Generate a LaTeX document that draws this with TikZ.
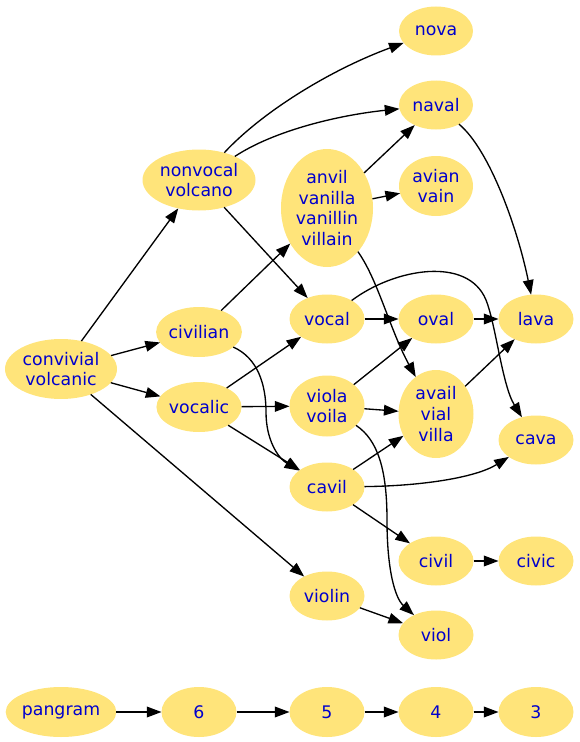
\documentclass[tikz,border=0pt]{standalone}
\usepackage{fontspec}
\setmainfont{DejaVu Sans}
\usetikzlibrary{shapes.geometric,arrows.meta}
\definecolor{nodefill}{HTML}{FFE47A}
\definecolor{nodetext}{HTML}{0000CD}
\begin{document}
\begin{tikzpicture}[x=0.75pt,y=-0.75pt,
  wnode/.style={ellipse,fill=nodefill,draw=none,inner sep=0pt,outer sep=0pt,
    text=nodetext,align=center,font=\fontsize{13}{15.5}\selectfont},
  sz/.style 2 args={minimum width=#1*0.75pt,minimum height=#2*0.75pt},
  edge/.style={draw=black,line width=1pt,-{Triangle[length=11pt,width=8pt]}}]
\useasboundingbox (0,0) rectangle (579,742);
% nodes
\node[wnode,sz={74}{49}] (nova) at (436,31) {nova};
\node[wnode,sz={74}{49}] (naval) at (436,105) {naval};
\node[wnode,sz={113}{61}] (nonvocal) at (199,180) {nonvocal\\volcano};
\node[wnode,sz={92}{118}] (anvil) at (327,208) {anvil\\vanilla\\vanillin\\villain};
\node[wnode,sz={74}{60}] (avian) at (436,186) {avian\\vain};
\node[wnode,sz={74}{50}] (civilian) at (199,332) {civilian};
\node[wnode,sz={112}{60}] (convivial) at (61,369) {convivial\\volcanic};
\node[wnode,sz={75}{49}] (vocal) at (327,319) {vocal};
\node[wnode,sz={75}{49}] (oval) at (436,319) {oval};
\node[wnode,sz={75}{49}] (lava) at (536,319) {lava};
\node[wnode,sz={74}{50}] (vocalic) at (199,407) {vocalic};
\node[wnode,sz={75}{61}] (viola) at (327,406) {viola\\voila};
\node[wnode,sz={75}{88}] (avail) at (436,414) {avail\\vial\\villa};
\node[wnode,sz={75}{49}] (cava) at (536,440) {cava};
\node[wnode,sz={75}{49}] (cavil) at (327,487) {cavil};
\node[wnode,sz={75}{49}] (civil) at (436,561) {civil};
\node[wnode,sz={75}{49}] (civic) at (536,561) {civic};
\node[wnode,sz={75}{49}] (violin) at (327,596) {violin};
\node[wnode,sz={75}{49}] (viol) at (436,635) {viol};
\node[wnode,sz={88}{50}] (pangram) at (61,712) {pangram};
\node[wnode,sz={75}{50}] (n6) at (199,712) {6};
\node[wnode,sz={75}{50}] (n5) at (327,712) {5};
\node[wnode,sz={75}{50}] (n4) at (436,712) {4};
\node[wnode,sz={75}{50}] (n3) at (536,712) {3};
% edges
\draw[edge] (convivial) -- (nonvocal);
\draw[edge] (convivial) -- (civilian);
\draw[edge] (convivial) -- (vocalic);
\draw[edge] (convivial) -- (violin);
\draw[edge] (nonvocal) .. controls (262,112) and (330,70) .. (nova);
\draw[edge] (nonvocal) .. controls (275,130) and (340,115) .. (naval);
\draw[edge] (nonvocal) -- (vocal);
\draw[edge] (civilian) -- (anvil);
\draw[edge] (civilian) .. controls (258,358) and (266,385) .. (266,412)
  .. controls (266,440) and (278,458) .. (cavil);
\draw[edge] (anvil) -- (naval);
\draw[edge] (anvil) -- (avian);
\draw[edge] (anvil) .. controls (378,280) and (390,330) .. (avail);
\draw[edge] (naval) .. controls (490,150) and (518,230) .. (lava);
\draw[edge] (vocal) -- (oval);
\draw[edge] (vocal) .. controls (395,268) and (468,256) .. (486,300)
  .. controls (496,325) and (502,385) .. (cava);
\draw[edge] (oval) -- (lava);
\draw[edge] (vocalic) -- (vocal);
\draw[edge] (vocalic) -- (viola);
\draw[edge] (vocalic) -- (cavil);
\draw[edge] (viola) -- (oval);
\draw[edge] (viola) -- (avail);
\draw[edge] (viola) .. controls (378,440) and (387,470) .. (387,520)
  .. controls (387,570) and (395,598) .. (viol);
\draw[edge] (avail) -- (lava);
\draw[edge] (cavil) -- (avail);
\draw[edge] (cavil) .. controls (420,486) and (475,478) .. (cava);
\draw[edge] (cavil) -- (civil);
\draw[edge] (civil) -- (civic);
\draw[edge] (violin) -- (viol);
\draw[edge] (pangram) -- (n6);
\draw[edge] (n6) -- (n5);
\draw[edge] (n5) -- (n4);
\draw[edge] (n4) -- (n3);
\end{tikzpicture}
\end{document}
